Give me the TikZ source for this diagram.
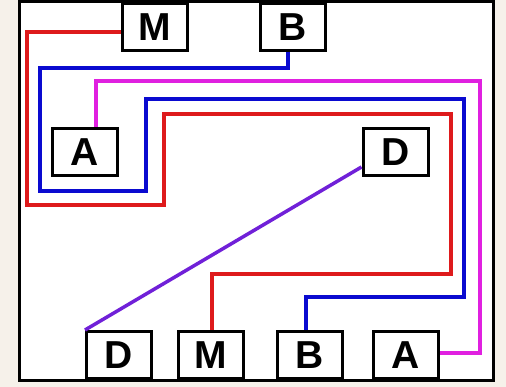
\documentclass[tikz,border=0pt]{standalone}
\usepackage{fontspec}
\setmainfont{Liberation Sans}
\definecolor{paper}{RGB}{246,241,234}
\definecolor{wred}{RGB}{222,26,28}
\definecolor{wblue}{RGB}{10,10,208}
\definecolor{wpink}{RGB}{224,32,224}
\definecolor{wviolet}{RGB}{112,32,216}
\tikzset{
  term/.style={draw=black,fill=white,line width=3pt,minimum width=65pt,minimum height=47pt,
    inner sep=0pt,font=\fontsize{39}{39}\selectfont\bfseries},
  wire/.style={line width=4pt}
}
\begin{document}
\begin{tikzpicture}[x=1pt,y=-1pt]
			\fill[paper] (0,0) rectangle (506,387);
			\useasboundingbox (0,0) rectangle (506,387);
			\filldraw[fill=white,draw=black,line width=3pt] (19,2) rectangle (493,380); %outer frame
			% terminals
			\node[term] (Mt) at (155,27.5) {M};
			\node[term] (Bt) at (293,27.5) {B};
			\node[term] (Al) at (85,152) {A};
			\node[term] (Dr) at (395.5,152.5) {D};
			\node[term] (Db) at (119,355) {D};
			\node[term] (Mb) at (211,355) {M};
			\node[term] (Bb) at (310,355) {B};
			\node[term] (Ab) at (406,355) {A};
			% wires
			\draw[wred,wire] (Mt.west |- 0,32.5) -- (27,32.5) -- (27,205) -- (164,205) -- (164,114) -- (451,114) -- (451,274) -- (212,274) -- (Mb.north -| 212,0);
			\draw[wblue,wire] (Bt.south -| 288,0) -- (288,68) -- (40,68) -- (40,191) -- (146,191) -- (146,99) -- (464,99) -- (464,297) -- (306,297) -- (Bb.north -| 306,0);
			\draw[wpink,wire] (Al.north -| 96,0) -- (96,81) -- (480,81) -- (480,353) -- (Ab.east |- 0,353);
			\draw[wviolet,line width=3.5pt] (Dr.west |- 0,167) -- (Db.north west);
		\end{tikzpicture}
\end{document}
